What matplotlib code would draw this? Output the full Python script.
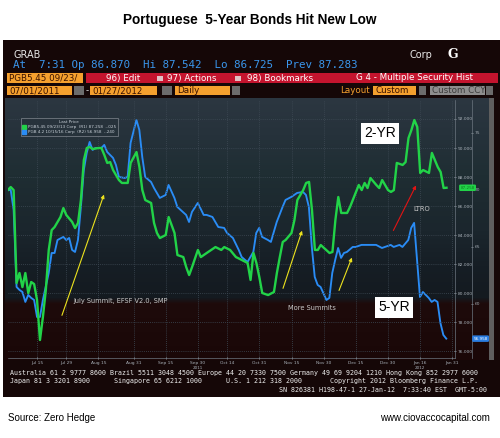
import numpy as np
import matplotlib
matplotlib.use('Agg')
import matplotlib.pyplot as plt
import matplotlib.transforms as mtransforms
from matplotlib.lines import Line2D
from matplotlib.patches import Rectangle

W, H = 500, 438

# business days since 2011-07-01, PGB 5.45 09/23/13 (2-yr, right axis R1)
day_2yr = [0, 1, 2, 3, 4, 5, 6, 7, 8, 9,
           10, 11, 12, 13, 14, 15, 16, 18, 19, 20,
           22, 23, 24, 25, 26, 27, 28, 29, 31, 32,
           33, 34, 35, 36, 38, 39, 41, 42, 44, 45,
           46, 47, 49, 50, 51, 52, 54, 55, 57, 58,
           60, 61, 62, 63, 65, 66, 68, 71, 73, 74,
           76, 78, 80, 82, 83, 84, 85, 86, 87, 89,
           91, 92, 93, 94, 95, 97, 98, 99, 101, 102,
           103, 104, 105, 106, 107, 110, 111, 112, 113, 114,
           116, 117, 120, 121, 122, 123, 124, 126, 127, 128,
           130, 131, 132, 133, 135, 136, 137, 138, 139, 140,
           141, 142, 144, 145, 147, 148, 149, 150]
px_2yr = [87.10, 87.31, 87.10, 80.69, 81.38, 80.41, 81.38, 80.00, 80.76, 80.62,
          79.52, 76.76, 78.34, 80.21, 82.97, 84.34, 84.55, 85.24, 85.86, 85.38,
          84.90, 84.48, 84.83, 86.41, 89.17, 90.00, 90.07, 89.93, 90.00, 90.00,
          89.52, 88.97, 89.03, 88.48, 87.79, 87.59, 87.59, 88.97, 89.72, 88.69,
          87.10, 86.41, 86.21, 84.83, 84.14, 83.79, 84.00, 85.24, 84.14, 82.62,
          82.48, 81.79, 81.24, 81.79, 82.97, 82.48, 82.76, 83.17, 82.97, 83.17,
          82.97, 82.48, 82.28, 82.07, 80.90, 82.76, 82.07, 81.10, 80.00, 79.86,
          80.07, 81.38, 82.48, 83.52, 83.66, 84.14, 85.03, 86.41, 87.10, 87.59,
          87.66, 85.72, 82.97, 82.97, 83.31, 82.76, 82.83, 85.03, 86.62, 85.52,
          85.52, 85.93, 87.45, 87.10, 87.59, 87.24, 87.93, 87.45, 87.24, 87.79,
          87.10, 86.97, 87.10, 88.97, 88.83, 89.03, 90.69, 91.24, 91.93, 91.45,
          88.28, 88.48, 88.28, 89.66, 88.69, 88.34, 87.24, 87.26]

# PGB 4.2 10/15/16 (5-yr, right axis R2)
day_5yr = [0, 1, 2, 3, 4, 5, 6, 7, 8, 9,
           10, 11, 12, 14, 15, 16, 17, 19, 20, 21,
           22, 23, 24, 25, 26, 27, 28, 29, 30, 32,
           33, 34, 36, 37, 38, 40, 41, 42, 44, 45,
           46, 47, 49, 50, 52, 54, 55, 57, 58, 61,
           62, 63, 65, 67, 68, 70, 72, 74, 75, 77,
           79, 80, 82, 84, 85, 86, 87, 89, 90, 92,
           94, 95, 97, 99, 101, 102, 103, 104, 105, 106,
           107, 109, 110, 111, 112, 113, 114, 115, 116, 118,
           119, 121, 124, 126, 128, 129, 131, 132, 134, 135,
           137, 138, 139, 140, 141, 142, 144, 145, 146, 147,
           148, 149, 150]
px_5yr = [70.00, 70.00, 68.25, 61.49, 61.23, 61.05, 60.18, 60.79, 60.53, 60.35,
          58.86, 58.86, 60.35, 62.72, 64.47, 64.47, 65.61, 65.88, 65.61, 65.79,
          64.74, 64.56, 65.61, 68.51, 71.75, 73.25, 74.21, 73.51, 73.68, 73.68,
          73.95, 73.33, 72.81, 72.19, 71.14, 71.05, 71.14, 74.12, 76.14, 75.26,
          72.89, 71.14, 70.70, 70.18, 69.30, 69.56, 70.44, 69.30, 68.51, 67.81,
          67.19, 68.07, 68.86, 67.81, 67.81, 67.63, 66.75, 66.67, 66.23, 65.79,
          64.74, 64.12, 63.68, 64.56, 66.23, 66.67, 65.88, 65.61, 65.44, 67.19,
          68.51, 69.12, 69.39, 69.74, 69.82, 69.56, 68.51, 65.00, 62.37, 61.67,
          61.49, 60.35, 60.53, 62.72, 63.86, 64.91, 64.04, 64.47, 64.56, 65.00,
          65.00, 65.18, 65.18, 65.18, 64.91, 65.00, 65.18, 65.00, 65.18, 65.00,
          65.61, 66.67, 67.11, 63.86, 60.61, 61.05, 60.53, 60.18, 60.35, 60.18,
          58.33, 57.28, 56.96]

tick_dates = ['2011-07-15', '2011-07-29', '2011-08-15', '2011-08-31', '2011-09-15',
              '2011-09-30', '2011-10-14', '2011-10-31', '2011-11-15', '2011-11-30',
              '2011-12-15', '2011-12-30', '2012-01-16', '2012-01-31']
tick_labels = ['Jul 15', 'Jul 29', 'Aug 15', 'Aug 31', 'Sep 15', 'Sep 30', 'Oct 14',
               'Oct 31', 'Nov 15', 'Nov 30', 'Dec 15', 'Dec 30', 'Jan 16', 'Jan 31']
r1_ticks = [92, 90, 88, 86, 84, 82, 80, 78, 76]
r2_ticks = [75, 70, 65, 60]
last_2yr, chg_2yr = 87.258, '-.025'
last_5yr, chg_5yr = 56.958, '-.240'

GREEN = '#22d348'
BLUE = '#2a8cf5'
PANEL = '#150707'
ORANGE = '#f5a02e'
MONO = ['DejaVu Sans Mono']


def fx(x):
    return x / W


def fy(y):
    return 1 - y / H


def box(x0, y0, x1, y1):
    return [fx(x0), fy(y1), (x1 - x0) / W, (y1 - y0) / H]


fig = plt.figure(figsize=(5, 4.38), dpi=100)
fig.patch.set_facecolor('white')


def rect(x0, y0, x1, y1, color, z=-2):
    fig.patches.append(Rectangle((fx(x0), fy(y1)), (x1 - x0) / W, (y1 - y0) / H,
                                 transform=fig.transFigure, facecolor=color,
                                 edgecolor='none', zorder=z))


def ftext(x, y, s, **kw):
    kw.setdefault('va', 'center')
    fig.text(fx(x), fy(y), s, **kw)


# title and footer
ftext(250, 20, 'Portuguese  5-Year Bonds Hit New Low', ha='center', fontsize=9.8,
      fontweight='bold', family='Liberation Sans')
ftext(8, 418, 'Source: Zero Hedge', fontsize=7, family='Liberation Sans')
ftext(490, 418, 'www.ciovaccocapital.com', ha='right', fontsize=7, family='Liberation Sans')

# terminal panel
rect(3, 40, 500, 397, PANEL, z=-3)
ftext(13, 55, 'GRAB', color='#e8e8e8', fontsize=7)
ftext(410, 55, 'Corp', color='#e8e8e8', fontsize=7)
ftext(447, 54, 'G', color='white', fontsize=9, fontweight='bold', family='DejaVu Serif')
ftext(13, 65, 'At  7:31 Op 86.870  Hi 87.542  Lo 86.725  Prev 87.283',
      color='#3a96ec', fontsize=7.8, family=MONO)

# button rows
rect(7, 73, 83, 83, ORANGE)
ftext(9, 78, 'PGB5.45 09/23/', color='#3a1200', fontsize=6.3)
rect(86, 73, 498, 83, '#c4142e')
for x, s in [(106, '96) Edit'), (167, '97) Actions'), (247, '98) Bookmarks'),
             (356, 'G 4 - Multiple Security Hist')]:
    ftext(x, 78, s, color='white', fontsize=6.3)
for x in [157, 235]:
    rect(x, 76, x + 6, 81, '#e0c0c4', z=-1)

rect(7, 86, 72, 95, ORANGE)
ftext(9, 90.5, '07/01/2011', color='#3a1200', fontsize=6.3)
rect(74, 86, 84, 95, '#6c6c6c')
ftext(86, 90.5, '-', color='#e0e0e0', fontsize=6.3)
rect(90, 86, 157, 95, ORANGE)
ftext(92, 90.5, '01/27/2012', color='#3a1200', fontsize=6.3)
rect(162, 86, 172, 95, '#6c6c6c')
rect(175, 86, 230, 95, ORANGE)
ftext(177, 90.5, 'Daily', color='#3a1200', fontsize=6.3)
rect(232, 86, 240, 95, '#6c6c6c')
ftext(340, 90.5, 'Layout', color=ORANGE, fontsize=6.3)
rect(373, 86, 416, 95, ORANGE)
ftext(375, 90.5, 'Custom', color='#3a1200', fontsize=6.3)
rect(419, 86, 426, 95, '#6c6c6c')
rect(430, 86, 485, 95, '#8e8e8e')
ftext(432, 90.5, 'Custom CCY', color='#3c3c3c', fontsize=6.3)
rect(486, 86, 493, 95, '#6c6c6c')

# chart background bands
bg = fig.add_axes(box(5, 98, 490, 360))
bg.set_zorder(-1)
stop_y = [98, 135, 175, 230, 265, 297, 303, 360]
stop_c = ['#2c3741', '#26323b', '#1f2e33', '#1b262d', '#161e25', '#141a20', '#1e0b0b', '#1a0707']
rows = np.arange(98, 360)
rgb = np.array([matplotlib.colors.to_rgb(c) for c in stop_c])
grad = np.stack([np.interp(rows, stop_y, rgb[:, k]) for k in range(3)], axis=-1)[:, None, :]
bg.imshow(grad, aspect='auto', extent=[0, 1, 0, 1], interpolation='nearest')
bg.axis('off')
rect(489, 98, 494, 360, '#5e5e5e', z=-0.5)

# axis geometry (business days)
x_left = 0.07
x_r1 = 152.9
x_r2 = 158.8
tick_pos = [np.busday_count('2011-07-01', d) for d in tick_dates]

# R2 axis: 5-yr
ax2 = fig.add_axes(box(8, 100, 472, 358))
ax2.set_facecolor('none')
ax2.set_xlim(x_left, x_r2)
ax2.set_ylim(55.26, 77.89)
ax2.plot(day_5yr, px_5yr, color=BLUE, lw=1.35, solid_joinstyle='round')
for side in ['left', 'top', 'bottom']:
    ax2.spines[side].set_visible(False)
ax2.spines['right'].set_color('#6c7680')
ax2.spines['right'].set_linewidth(0.5)
ax2.set_xticks([])
ax2.yaxis.tick_right()
ax2.set_yticks(r2_ticks)
ax2.set_yticklabels([str(t) for t in r2_ticks])
ax2.tick_params(axis='y', colors='#a0a8b0', labelsize=3.2, length=2, width=0.5,
                pad=1, direction='inout')
trans2 = mtransforms.blended_transform_factory(ax2.transAxes, ax2.transData)
ax2.text(1.003, last_5yr, f'{last_5yr:.3f}', transform=trans2, fontsize=3, color='white',
         va='center', ha='left',
         bbox=dict(boxstyle='round,pad=0.3', fc='#2a7de1', ec='none'))

# R1 axis: 2-yr
ax = fig.add_axes(box(8, 100, 455, 358))
ax.set_facecolor('none')
ax.set_xlim(x_left, x_r1)
ax.set_ylim(75.52, 93.31)
ax.set_xticks(tick_pos)
ax.set_xticklabels(tick_labels)
ax.set_yticks(r1_ticks)
ax.set_yticklabels([f'{t:.3f}' for t in r1_ticks])
ax.yaxis.tick_right()
ax.grid(True, color='#3e4a55', lw=0.6, ls=(0, (1, 1.5)))
ax.set_axisbelow(True)
ax.plot(day_2yr, px_2yr, color=GREEN, lw=1.7, solid_joinstyle='round')
for side in ['left', 'top']:
    ax.spines[side].set_visible(False)
for side in ['right', 'bottom']:
    ax.spines[side].set_color('#6c7680')
    ax.spines[side].set_linewidth(0.5)
ax.tick_params(axis='both', colors='#a8b0b8', labelsize=3.2, length=2, width=0.5,
               pad=1.2, direction='inout')
transx = mtransforms.blended_transform_factory(ax.transData, ax.transAxes)
ax.text(tick_pos[5], -0.038, '2011', transform=transx, fontsize=3, color='#a8b0b8',
        ha='center', va='center')
ax.text(tick_pos[12], -0.038, '2012', transform=transx, fontsize=3, color='#a8b0b8',
        ha='center', va='center')
trans1 = mtransforms.blended_transform_factory(ax.transAxes, ax.transData)
ax.text(1.012, last_2yr, f'{last_2yr:.3f}', transform=trans1, fontsize=3, color='#0e7a22',
        va='center', ha='left', clip_on=False,
        bbox=dict(boxstyle='round,pad=0.3', fc=GREEN, ec='none'))

# legend
handles = [Line2D([], [], ls='none', marker='s', markersize=2.6, color=GREEN,
                  label=f'PGB5.45 09/23/13 Corp  (R1) {last_2yr:.3f}  {chg_2yr}'),
           Line2D([], [], ls='none', marker='s', markersize=2.6, color=BLUE,
                  label=f'PGB 4.2 10/15/16 Corp  (R2) {last_5yr:.3f}  {chg_5yr}')]
leg = ax.legend(handles=handles, title='Last Price', loc='upper left',
                bbox_to_anchor=(0.0246, 0.938), fontsize=3, title_fontsize=3,
                facecolor='#27323b', edgecolor='#8a9098', framealpha=0.9,
                labelcolor='#c8d0d8', handlelength=0.8, handletextpad=0.4,
                borderpad=0.4, labelspacing=0.3, fancybox=False)
leg.get_title().set_color('#c8d0d8')
leg.get_frame().set_linewidth(0.5)

# annotations
yellow = dict(arrowstyle='-|>', color='#ece21e', lw=0.8, mutation_scale=5)
for start, end in [((18.2, 78.28), (33.2, 86.97)),
                   ((93.8, 80.14), (100.9, 84.48)),
                   ((112.9, 80.00), (118.0, 82.62))]:
    ax.annotate('', xy=end, xytext=start, arrowprops=yellow)
ax.annotate('', xy=(140.0, 87.59), xytext=(131.4, 84.14),
            arrowprops=dict(arrowstyle='-|>', color='#e21414', lw=0.8, mutation_scale=5))
ax.text(22.3, 79.45, 'July Summit, EFSF V2.0, SMP', color='#c8c8c8', fontsize=4.8,
        va='center')
ax.text(95.8, 78.97, 'More Summits', color='#c8c8c8', fontsize=4.8, va='center')
ax.text(138.6, 85.79, 'LTRO', color='#c8c8c8', fontsize=4.8, va='center')
for x, y, s in [(127.3, 91.03, '2-YR'), (132.1, 79.03, '5-YR')]:
    ax.text(x, y, s, color='black', fontsize=10, ha='center', va='center',
            family=['Liberation Sans Narrow', 'Liberation Sans'],
            bbox=dict(boxstyle='square,pad=0.25', fc='white', ec='none'))

# footer lines of the terminal
ftext(10, 373.5, 'Australia 61 2 9777 8600 Brazil 5511 3048 4500 Europe 44 20 7330 7500 '
      'Germany 49 69 9204 1210 Hong Kong 852 2977 6000', color='#eeeeee', fontsize=4.8,
      family=MONO)
ftext(10, 381.5, 'Japan 81 3 3201 8900      Singapore 65 6212 1000      U.S. 1 212 318 2000'
      '       Copyright 2012 Bloomberg Finance L.P.', color='#eeeeee', fontsize=4.8,
      family=MONO)
ftext(487, 389.5, 'SN 826381 H198-47-1 27-Jan-12  7:33:40 EST  GMT-5:00', ha='right',
      color='#eeeeee', fontsize=4.8, family=MONO)

fig.savefig('out.png', dpi=100)
